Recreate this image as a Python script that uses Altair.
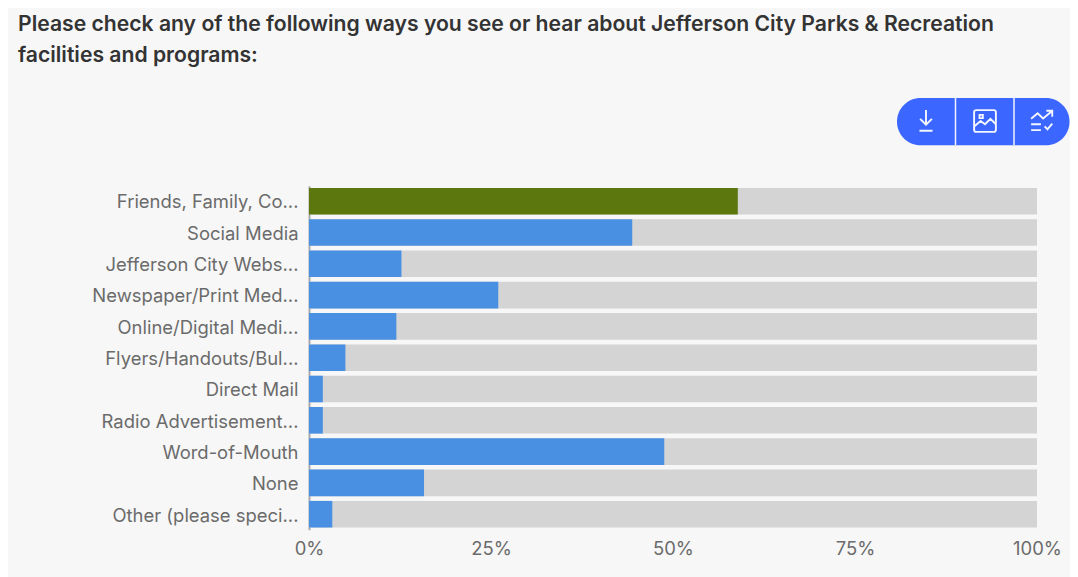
import altair as alt
import pandas as pd

categories = ["Friends, Family, Co...", "Social Media", "Jefferson City Webs...",
              "Newspaper/Print Med...", "Online/Digital Medi...", "Flyers/Handouts/Bul...",
              "Direct Mail", "Radio Advertisement...", "Word-of-Mouth", "None",
              "Other (please speci..."]
values = [58.9, 44.4, 12.7, 26.0, 12.0, 5.0, 1.9, 1.9, 48.8, 15.8, 3.2]
highlight = ["top"] + ["rest"] * 10
track = [100] * 11
title_lines = ["Please check any of the following ways you see or hear about Jefferson City Parks & Recreation",
               "facilities and programs:"]

df = pd.DataFrame({"cat": categories, "val": values, "group": highlight, "track": track})
FONT = "Inter"

y = alt.Y("cat:N", sort=categories, title=None,
          scale=alt.Scale(paddingInner=0.15, paddingOuter=0.07),
          axis=alt.Axis(domainColor="#aaaaaa", domainWidth=2, ticks=False, labelPadding=11,
                        labelOffset=1.3, labelFontSize=18.45, labelColor="#6b6b6b",
                        labelFont=FONT, labelLimit=260))
x_axis = alt.Axis(values=[0, 25, 50, 75, 100], format="d", labelExpr="datum.value + '%'",
                  grid=False, ticks=False, domain=False, labelFontSize=18.45, labelColor="#6b6b6b",
                  labelFont=FONT, labelPadding=10, title=None, labelFlush=False)
x = alt.X("track:Q", scale=alt.Scale(domain=[0, 100], nice=False), axis=x_axis)

tracks = alt.Chart(df).mark_bar(color="#d4d4d4", opacity=1).encode(x=x, y=y)
bars = alt.Chart(df).mark_bar(opacity=1).encode(
    x=alt.X("val:Q"), y=alt.Y("cat:N", sort=categories),
    color=alt.Color("group:N", legend=None,
                    scale=alt.Scale(domain=["top", "rest"], range=["#5b770e", "#4a90e2"])))

# Toolbar, positioned relative to the plot area
PT, PB = -87.7, -40.4
pill = alt.Chart(df.head(1)).mark_rect(color="#3b66ff", cornerRadius=23.6).encode(
    x=alt.value(588), x2=alt.value(760.5), y=alt.value(PT), y2=alt.value(PB))
sep1 = alt.Chart(df.head(1)).mark_rule(color="#f0f3ff", strokeWidth=1.5).encode(
    x=alt.value(646.5), y=alt.value(PT), y2=alt.value(PB))
sep2 = alt.Chart(df.head(1)).mark_rule(color="#f0f3ff", strokeWidth=1.5).encode(
    x=alt.value(705), y=alt.value(PT), y2=alt.value(PB))

def icon(path, px, py=-64.7):
    return alt.Chart(df.head(1)).mark_point(
        shape=path, filled=False, stroke="#f4f6ff", strokeWidth=1.9, size=1900, opacity=1
    ).encode(x=alt.value(px), y=alt.value(py))

dl = "M0,-0.5 L0,0.15 M-0.27,-0.1 L0,0.17 L0.27,-0.1 M-0.3,0.45 L0.3,0.45"
img = ("M-0.4,-0.5 L0.4,-0.5 Q0.5,-0.5 0.5,-0.4 L0.5,0.4 Q0.5,0.5 0.4,0.5 L-0.4,0.5 Q-0.5,0.5 -0.5,0.4 "
       "L-0.5,-0.4 Q-0.5,-0.5 -0.4,-0.5 Z M-0.5,0.25 L-0.2,0 L0,0.15 L0.25,-0.1 L0.5,0.15 "
       "M-0.25,-0.28 L-0.1,-0.28 L-0.1,-0.13 L-0.25,-0.13 Z")
trend = ("M-0.5,-0.1 L-0.2,-0.35 L0.05,-0.12 L0.45,-0.45 M0.2,-0.47 L0.47,-0.47 L0.47,-0.2 "
         "M-0.5,0.15 L-0.05,0.15 M-0.5,0.42 L-0.05,0.42 M0.12,0.25 L0.25,0.38 L0.47,0.12")

chart = alt.layer(tracks, bars, pill, sep1, sep2,
                  icon(dl, 617), icon(img, 676), icon(trend, 733)).properties(
    width=728, height=344,
    background="#f7f7f7",
    autosize=alt.AutoSizeParams(type="none"),
    padding={"left": 301, "top": 177.7, "right": 33, "bottom": 47.3},
    title=alt.TitleParams(text=title_lines, anchor="start", frame="group", font=FONT, fontSize=21.15,
                          fontWeight=600, color="#333333", lineHeight=31, dx=-291, offset=14.5,
                          baseline="alphabetic"),
).configure_view(stroke=None)

chart.save("out.html", embed_options={"renderer": "svg", "actions": False})
